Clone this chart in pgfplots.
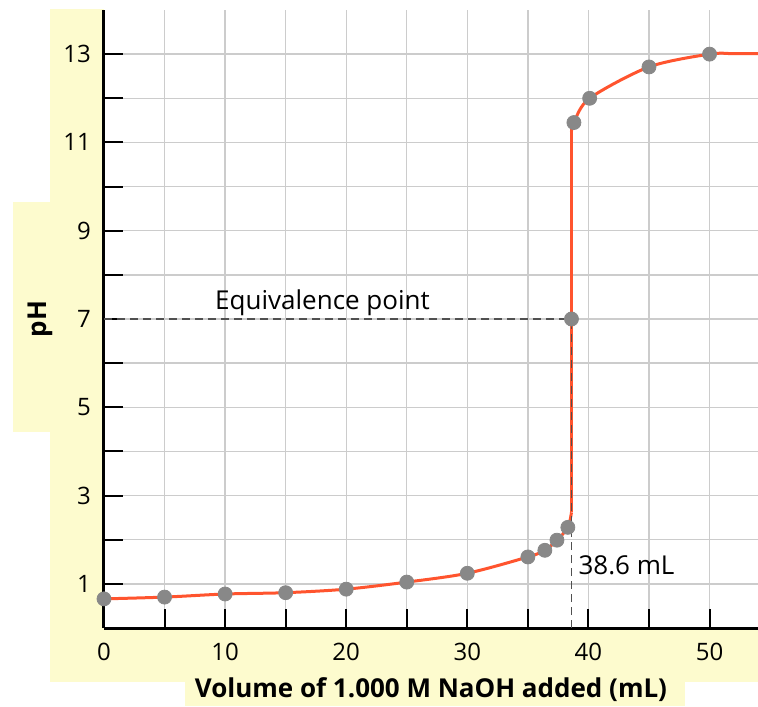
\documentclass[border=0pt]{standalone}
\usepackage{fontspec}
\setmainfont{Open Sans}
\usepackage{pgfplots}
\pgfplotsset{compat=1.18}

\definecolor{paleyellow}{RGB}{253,251,206}
\definecolor{curvered}{RGB}{255,84,46}
\definecolor{dotgray}{RGB}{136,136,136}
\definecolor{gridgray}{RGB}{204,204,204}
\definecolor{dashgray}{RGB}{80,80,80}

\begin{document}
\begin{tikzpicture}[x=1pt,y=1pt]
% page frame and pale yellow backing
\path[use as bounding box] (-52,-39) rectangle (327,314);
\fill[paleyellow] (-27,-27) rectangle (0,309.5);
\fill[paleyellow] (-45.5,98) rectangle (0,213);
\fill[paleyellow] (-27,-27) rectangle (327,0);
\fill[paleyellow] (40.5,-39) rectangle (290.5,-27);
\begin{axis}[
    at={(0,0)}, anchor=south west,
    scale only axis, width=327pt, height=309pt,
    xmin=0, xmax=54, ymin=0, ymax=14,
    axis x line=bottom, axis y line=left,
    axis line style={-, line width=1.5pt, black},
    xtick={0,10,...,50}, minor xtick={5,15,...,45},
    ytick={1,3,...,13}, minor ytick={2,4,...,12},
    grid=both,
    major grid style={gridgray, line width=0.7pt},
    minor grid style={gridgray, line width=0.7pt},
    tick align=inside,
    major tick length=9.5pt, minor tick length=9.5pt,
    every tick/.style={black, line width=1pt},
    tick label style={font=\fontsize{12}{14}\selectfont},
    /pgf/number format/assume math mode=true,
    xticklabel style={yshift=-4pt},
    yticklabel style={xshift=-3pt},
    xlabel={\textbf{Volume of 1.000 M NaOH added (mL)}},
    ylabel={\textbf{pH}},
    label style={font=\fontsize{13}{15}\selectfont},
    x label style={at={(axis description cs:0.5,-0.1003)}, anchor=center},
    y label style={at={(axis description cs:-0.0979,0.5)}, anchor=center},
    clip=false,
]
% titration curve
\addplot[curvered, line width=1.5pt, smooth, tension=0.5] coordinates {
    (0,0.66) (5,0.70) (10,0.77) (15,0.80) (20,0.88) (25,1.04) (30,1.24)
    (35,1.61) (36.4,1.76) (37.4,1.99) (38.3,2.28) (38.6,2.62)
};
\addplot[curvered, line width=1.5pt] coordinates {(38.6,2.62) (38.6,11.25)};
\addplot[curvered, line width=1.5pt, smooth, tension=0.5] coordinates {
    (38.6,11.25) (38.8,11.45) (40.1,12.00) (45,12.71) (50,13.00) (52,13.01) (54,13.01)
};
% equivalence guides
\addplot[dashgray, line width=0.8pt, dash pattern=on 4pt off 2.5pt] coordinates {(0,7) (38.6,7)};
\addplot[dashgray, line width=0.8pt, dash pattern=on 4pt off 2.5pt] coordinates {(38.6,0) (38.6,7)};
% measured points
\addplot[only marks, mark=*, mark size=3.5pt, dotgray, mark options={draw=dotgray, fill=dotgray}] coordinates {
    (0,0.66) (5,0.70) (10,0.77) (15,0.80) (20,0.88) (25,1.04) (30,1.24)
    (35,1.61) (36.4,1.76) (37.4,1.99) (38.3,2.28) (38.6,7.00)
    (38.8,11.45) (40.1,12.00) (45,12.71) (50,13.00)
};
\node[anchor=base west, font=\fontsize{13}{15}\selectfont, inner sep=0pt] at (axis cs:9.15,7.22) {Equivalence point};
\node[anchor=base west, font=\fontsize{13}{15}\selectfont, inner sep=0pt] at (axis cs:39.15,1.22) {38.6 mL};
\end{axis}
\end{tikzpicture}
\end{document}
